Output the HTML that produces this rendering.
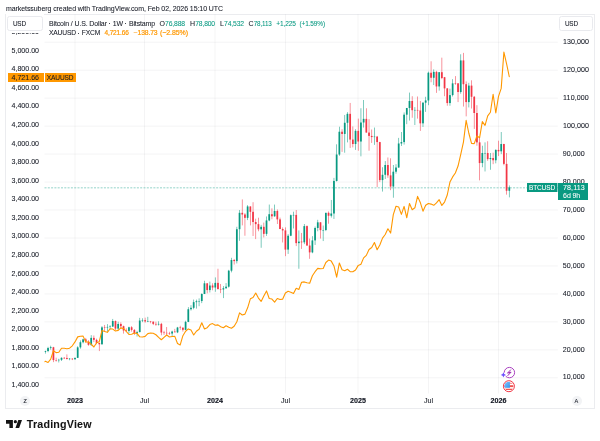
<!DOCTYPE html>
<html><head><meta charset="utf-8"><title>chart</title>
<style>
html,body{margin:0;padding:0;background:#fff;}
body{width:600px;height:441px;position:relative;overflow:hidden;-webkit-font-smoothing:antialiased;font-family:"Liberation Sans",sans-serif;color:#131722;}
.p{position:absolute;will-change:opacity;-webkit-text-stroke:0.06px currentColor;line-height:9px;height:9px;white-space:nowrap;}
.frame{position:absolute;left:5px;top:13.5px;width:589.8px;height:395.2px;border:0.7px solid #ebecef;box-sizing:border-box;}
.usd{position:absolute;top:16.2px;height:14.5px;box-sizing:border-box;border:0.7px solid #e9eaee;border-radius:2.5px;background:#fff;}
.tag{position:absolute;box-sizing:border-box;}
.d{display:inline-block;width:1px;height:1px;margin:0 0.66px;background:currentColor;vertical-align:1.5px;opacity:0.8;}
.cover{position:absolute;background:#fff;}
.btn{position:absolute;width:10px;height:10px;border-radius:5px;background:#f2f3f5;}
</style></head><body>
<div class="p" style="left:6.00px;top:3.80px;font-size:7.0px;letter-spacing:-0.076px;color:#131722;">marketssuberg created with TradingView.com, Feb 02, 2026 15:10 UTC</div>
<div class="frame"></div>
<svg width="600" height="441" viewBox="0 0 600 441" style="position:absolute;left:0;top:0"><g stroke="#2a2e39" stroke-opacity="0.075" stroke-width="0.7"><line x1="44.5" x2="557.8" y1="377.78" y2="377.78"/><line x1="44.5" x2="557.8" y1="349.82" y2="349.82"/><line x1="44.5" x2="557.8" y1="321.86" y2="321.86"/><line x1="44.5" x2="557.8" y1="293.90" y2="293.90"/><line x1="44.5" x2="557.8" y1="265.94" y2="265.94"/><line x1="44.5" x2="557.8" y1="237.98" y2="237.98"/><line x1="44.5" x2="557.8" y1="210.02" y2="210.02"/><line x1="44.5" x2="557.8" y1="182.06" y2="182.06"/><line x1="44.5" x2="557.8" y1="154.10" y2="154.10"/><line x1="44.5" x2="557.8" y1="126.14" y2="126.14"/><line x1="44.5" x2="557.8" y1="98.18" y2="98.18"/><line x1="44.5" x2="557.8" y1="70.22" y2="70.22"/><line x1="44.5" x2="557.8" y1="42.26" y2="42.26"/><line x1="75" x2="75" y1="14.3" y2="393.5"/><line x1="144.5" x2="144.5" y1="14.3" y2="393.5"/><line x1="215" x2="215" y1="14.3" y2="393.5"/><line x1="285.5" x2="285.5" y1="14.3" y2="393.5"/><line x1="358" x2="358" y1="14.3" y2="393.5"/><line x1="428.5" x2="428.5" y1="14.3" y2="393.5"/><line x1="498.5" x2="498.5" y1="14.3" y2="393.5"/></g>
<line x1="44.5" x2="557.8" y1="187.84" y2="187.84" stroke="#089981" stroke-width="0.8" stroke-dasharray="2 1.3" opacity="0.55"/>
<g clip-path="url(#pane)"><rect x="44.98" y="350.66" width="0.7" height="2.94" fill="#089981" fill-opacity="0.75"/><rect x="47.68" y="346.79" width="0.7" height="5.41" fill="#089981" fill-opacity="0.75"/><rect x="50.37" y="345.68" width="0.7" height="4.00" fill="#089981" fill-opacity="0.75"/><rect x="53.07" y="346.83" width="0.7" height="15.29" fill="#f23645" fill-opacity="0.75"/><rect x="55.77" y="357.68" width="0.7" height="3.89" fill="#f23645" fill-opacity="0.75"/><rect x="58.46" y="358.77" width="0.7" height="3.69" fill="#089981" fill-opacity="0.75"/><rect x="61.16" y="357.31" width="0.7" height="3.69" fill="#089981" fill-opacity="0.75"/><rect x="63.86" y="357.03" width="0.7" height="2.01" fill="#f23645" fill-opacity="0.75"/><rect x="66.56" y="354.35" width="0.7" height="5.17" fill="#f23645" fill-opacity="0.75"/><rect x="69.26" y="358.04" width="0.7" height="2.21" fill="#089981" fill-opacity="0.75"/><rect x="71.95" y="358.29" width="0.7" height="1.79" fill="#f23645" fill-opacity="0.75"/><rect x="74.65" y="357.65" width="0.7" height="1.96" fill="#089981" fill-opacity="0.75"/><rect x="77.35" y="346.30" width="0.7" height="11.63" fill="#089981" fill-opacity="0.75"/><rect x="80.05" y="340.40" width="0.7" height="8.30" fill="#089981" fill-opacity="0.75"/><rect x="82.74" y="338.75" width="0.7" height="4.64" fill="#089981" fill-opacity="0.75"/><rect x="85.44" y="337.91" width="0.7" height="4.92" fill="#f23645" fill-opacity="0.75"/><rect x="88.14" y="340.17" width="0.7" height="5.59" fill="#f23645" fill-opacity="0.75"/><rect x="90.84" y="335.14" width="0.7" height="10.85" fill="#089981" fill-opacity="0.75"/><rect x="93.53" y="335.50" width="0.7" height="6.57" fill="#f23645" fill-opacity="0.75"/><rect x="96.23" y="338.66" width="0.7" height="5.59" fill="#f23645" fill-opacity="0.75"/><rect x="98.93" y="342.55" width="0.7" height="8.53" fill="#f23645" fill-opacity="0.75"/><rect x="101.62" y="326.14" width="0.7" height="18.51" fill="#089981" fill-opacity="0.75"/><rect x="104.32" y="324.94" width="0.7" height="6.43" fill="#f23645" fill-opacity="0.75"/><rect x="107.02" y="324.12" width="0.7" height="7.52" fill="#089981" fill-opacity="0.75"/><rect x="109.72" y="325.22" width="0.7" height="4.33" fill="#089981" fill-opacity="0.75"/><rect x="112.42" y="318.92" width="0.7" height="8.05" fill="#089981" fill-opacity="0.75"/><rect x="115.11" y="320.46" width="0.7" height="9.51" fill="#f23645" fill-opacity="0.75"/><rect x="117.81" y="321.72" width="0.7" height="8.67" fill="#089981" fill-opacity="0.75"/><rect x="120.51" y="322.28" width="0.7" height="6.15" fill="#f23645" fill-opacity="0.75"/><rect x="123.20" y="325.63" width="0.7" height="7.97" fill="#f23645" fill-opacity="0.75"/><rect x="125.90" y="328.35" width="0.7" height="3.72" fill="#f23645" fill-opacity="0.75"/><rect x="128.60" y="326.70" width="0.7" height="6.77" fill="#089981" fill-opacity="0.75"/><rect x="131.30" y="326.19" width="0.7" height="5.45" fill="#f23645" fill-opacity="0.75"/><rect x="134.00" y="329.13" width="0.7" height="5.73" fill="#f23645" fill-opacity="0.75"/><rect x="136.69" y="330.81" width="0.7" height="5.73" fill="#089981" fill-opacity="0.75"/><rect x="139.39" y="317.86" width="0.7" height="14.48" fill="#089981" fill-opacity="0.75"/><rect x="142.09" y="318.28" width="0.7" height="3.86" fill="#089981" fill-opacity="0.75"/><rect x="144.78" y="317.67" width="0.7" height="5.03" fill="#f23645" fill-opacity="0.75"/><rect x="147.48" y="316.83" width="0.7" height="5.31" fill="#089981" fill-opacity="0.75"/><rect x="150.18" y="320.94" width="0.7" height="2.32" fill="#f23645" fill-opacity="0.75"/><rect x="152.88" y="321.58" width="0.7" height="3.50" fill="#f23645" fill-opacity="0.75"/><rect x="155.58" y="321.72" width="0.7" height="4.05" fill="#f23645" fill-opacity="0.75"/><rect x="158.27" y="321.30" width="0.7" height="4.19" fill="#089981" fill-opacity="0.75"/><rect x="160.97" y="322.84" width="0.7" height="12.44" fill="#f23645" fill-opacity="0.75"/><rect x="163.67" y="330.81" width="0.7" height="4.05" fill="#f23645" fill-opacity="0.75"/><rect x="166.36" y="327.03" width="0.7" height="7.97" fill="#f23645" fill-opacity="0.75"/><rect x="169.06" y="331.79" width="0.7" height="3.08" fill="#f23645" fill-opacity="0.75"/><rect x="171.76" y="330.67" width="0.7" height="5.45" fill="#089981" fill-opacity="0.75"/><rect x="174.46" y="328.85" width="0.7" height="3.22" fill="#f23645" fill-opacity="0.75"/><rect x="177.16" y="326.89" width="0.7" height="6.21" fill="#089981" fill-opacity="0.75"/><rect x="179.85" y="325.77" width="0.7" height="4.05" fill="#f23645" fill-opacity="0.75"/><rect x="182.55" y="327.48" width="0.7" height="4.08" fill="#f23645" fill-opacity="0.75"/><rect x="185.25" y="320.74" width="0.7" height="9.23" fill="#089981" fill-opacity="0.75"/><rect x="187.94" y="307.10" width="0.7" height="15.04" fill="#089981" fill-opacity="0.75"/><rect x="190.64" y="305.14" width="0.7" height="5.40" fill="#089981" fill-opacity="0.75"/><rect x="193.34" y="299.55" width="0.7" height="9.73" fill="#089981" fill-opacity="0.75"/><rect x="196.04" y="299.63" width="0.7" height="8.95" fill="#089981" fill-opacity="0.75"/><rect x="198.73" y="298.37" width="0.7" height="7.83" fill="#089981" fill-opacity="0.75"/><rect x="201.43" y="293.34" width="0.7" height="9.79" fill="#089981" fill-opacity="0.75"/><rect x="204.13" y="280.76" width="0.7" height="13.28" fill="#089981" fill-opacity="0.75"/><rect x="206.83" y="283.28" width="0.7" height="10.07" fill="#f23645" fill-opacity="0.75"/><rect x="209.53" y="281.60" width="0.7" height="10.90" fill="#089981" fill-opacity="0.75"/><rect x="212.22" y="283.28" width="0.7" height="6.99" fill="#f23645" fill-opacity="0.75"/><rect x="214.92" y="277.40" width="0.7" height="14.40" fill="#089981" fill-opacity="0.75"/><rect x="217.62" y="268.74" width="0.7" height="20.97" fill="#f23645" fill-opacity="0.75"/><rect x="220.31" y="283.97" width="0.7" height="9.14" fill="#f23645" fill-opacity="0.75"/><rect x="223.01" y="286.07" width="0.7" height="12.02" fill="#089981" fill-opacity="0.75"/><rect x="225.71" y="283.05" width="0.7" height="5.82" fill="#089981" fill-opacity="0.75"/><rect x="228.41" y="269.85" width="0.7" height="17.75" fill="#089981" fill-opacity="0.75"/><rect x="231.10" y="257.83" width="0.7" height="14.54" fill="#089981" fill-opacity="0.75"/><rect x="233.80" y="258.95" width="0.7" height="5.59" fill="#f23645" fill-opacity="0.75"/><rect x="236.50" y="226.80" width="0.7" height="36.63" fill="#089981" fill-opacity="0.75"/><rect x="239.20" y="210.02" width="0.7" height="30.76" fill="#089981" fill-opacity="0.75"/><rect x="241.89" y="199.40" width="0.7" height="26.00" fill="#f23645" fill-opacity="0.75"/><rect x="244.59" y="213.10" width="0.7" height="22.65" fill="#f23645" fill-opacity="0.75"/><rect x="247.29" y="205.13" width="0.7" height="14.96" fill="#089981" fill-opacity="0.75"/><rect x="249.99" y="206.39" width="0.7" height="19.01" fill="#f23645" fill-opacity="0.75"/><rect x="252.69" y="202.19" width="0.7" height="33.83" fill="#f23645" fill-opacity="0.75"/><rect x="255.38" y="218.69" width="0.7" height="20.41" fill="#f23645" fill-opacity="0.75"/><rect x="258.08" y="217.71" width="0.7" height="13.56" fill="#f23645" fill-opacity="0.75"/><rect x="260.78" y="224.84" width="0.7" height="22.93" fill="#089981" fill-opacity="0.75"/><rect x="263.47" y="222.60" width="0.7" height="14.82" fill="#f23645" fill-opacity="0.75"/><rect x="266.17" y="216.45" width="0.7" height="19.43" fill="#089981" fill-opacity="0.75"/><rect x="268.87" y="204.57" width="0.7" height="16.64" fill="#089981" fill-opacity="0.75"/><rect x="271.57" y="208.34" width="0.7" height="10.90" fill="#f23645" fill-opacity="0.75"/><rect x="274.26" y="204.57" width="0.7" height="12.16" fill="#089981" fill-opacity="0.75"/><rect x="276.96" y="209.46" width="0.7" height="14.54" fill="#f23645" fill-opacity="0.75"/><rect x="279.66" y="217.57" width="0.7" height="11.46" fill="#f23645" fill-opacity="0.75"/><rect x="282.36" y="227.36" width="0.7" height="15.10" fill="#f23645" fill-opacity="0.75"/><rect x="285.05" y="227.36" width="0.7" height="28.80" fill="#f23645" fill-opacity="0.75"/><rect x="287.75" y="234.07" width="0.7" height="19.85" fill="#089981" fill-opacity="0.75"/><rect x="290.45" y="214.49" width="0.7" height="21.67" fill="#089981" fill-opacity="0.75"/><rect x="293.15" y="211.70" width="0.7" height="16.78" fill="#089981" fill-opacity="0.75"/><rect x="295.84" y="210.02" width="0.7" height="36.07" fill="#f23645" fill-opacity="0.75"/><rect x="298.54" y="230.43" width="0.7" height="38.31" fill="#089981" fill-opacity="0.75"/><rect x="301.24" y="232.95" width="0.7" height="15.94" fill="#f23645" fill-opacity="0.75"/><rect x="303.94" y="224.00" width="0.7" height="20.13" fill="#089981" fill-opacity="0.75"/><rect x="306.63" y="225.40" width="0.7" height="20.41" fill="#f23645" fill-opacity="0.75"/><rect x="309.33" y="238.54" width="0.7" height="20.27" fill="#f23645" fill-opacity="0.75"/><rect x="312.03" y="236.16" width="0.7" height="17.06" fill="#089981" fill-opacity="0.75"/><rect x="314.73" y="226.52" width="0.7" height="18.45" fill="#089981" fill-opacity="0.75"/><rect x="317.42" y="219.81" width="0.7" height="11.46" fill="#089981" fill-opacity="0.75"/><rect x="320.12" y="222.18" width="0.7" height="16.36" fill="#f23645" fill-opacity="0.75"/><rect x="322.82" y="225.54" width="0.7" height="15.52" fill="#089981" fill-opacity="0.75"/><rect x="325.52" y="212.82" width="0.7" height="18.31" fill="#089981" fill-opacity="0.75"/><rect x="328.21" y="211.42" width="0.7" height="12.30" fill="#f23645" fill-opacity="0.75"/><rect x="330.91" y="199.95" width="0.7" height="17.61" fill="#089981" fill-opacity="0.75"/><rect x="333.61" y="177.87" width="0.7" height="41.10" fill="#089981" fill-opacity="0.75"/><rect x="336.31" y="144.31" width="0.7" height="37.19" fill="#089981" fill-opacity="0.75"/><rect x="339.00" y="126.70" width="0.7" height="29.08" fill="#089981" fill-opacity="0.75"/><rect x="341.70" y="129.22" width="0.7" height="22.65" fill="#f23645" fill-opacity="0.75"/><rect x="344.40" y="114.96" width="0.7" height="37.75" fill="#089981" fill-opacity="0.75"/><rect x="347.10" y="112.16" width="0.7" height="30.20" fill="#089981" fill-opacity="0.75"/><rect x="349.79" y="102.93" width="0.7" height="45.02" fill="#f23645" fill-opacity="0.75"/><rect x="352.49" y="126.42" width="0.7" height="20.97" fill="#f23645" fill-opacity="0.75"/><rect x="355.19" y="129.22" width="0.7" height="20.69" fill="#089981" fill-opacity="0.75"/><rect x="357.89" y="118.59" width="0.7" height="32.15" fill="#f23645" fill-opacity="0.75"/><rect x="360.58" y="108.25" width="0.7" height="48.09" fill="#089981" fill-opacity="0.75"/><rect x="363.28" y="100.00" width="0.7" height="27.54" fill="#089981" fill-opacity="0.75"/><rect x="365.98" y="108.25" width="0.7" height="24.33" fill="#f23645" fill-opacity="0.75"/><rect x="368.68" y="119.15" width="0.7" height="31.59" fill="#f23645" fill-opacity="0.75"/><rect x="371.37" y="129.50" width="0.7" height="13.42" fill="#f23645" fill-opacity="0.75"/><rect x="374.07" y="127.54" width="0.7" height="17.34" fill="#089981" fill-opacity="0.75"/><rect x="376.77" y="135.93" width="0.7" height="51.17" fill="#f23645" fill-opacity="0.75"/><rect x="379.47" y="141.80" width="0.7" height="40.26" fill="#f23645" fill-opacity="0.75"/><rect x="382.16" y="167.24" width="0.7" height="24.33" fill="#089981" fill-opacity="0.75"/><rect x="384.86" y="161.09" width="0.7" height="17.89" fill="#089981" fill-opacity="0.75"/><rect x="387.56" y="157.46" width="0.7" height="20.41" fill="#f23645" fill-opacity="0.75"/><rect x="390.26" y="158.29" width="0.7" height="31.87" fill="#f23645" fill-opacity="0.75"/><rect x="392.95" y="165.00" width="0.7" height="32.71" fill="#089981" fill-opacity="0.75"/><rect x="395.65" y="164.17" width="0.7" height="9.51" fill="#089981" fill-opacity="0.75"/><rect x="398.35" y="137.88" width="0.7" height="29.92" fill="#089981" fill-opacity="0.75"/><rect x="401.05" y="132.01" width="0.7" height="13.98" fill="#089981" fill-opacity="0.75"/><rect x="403.74" y="112.44" width="0.7" height="32.15" fill="#089981" fill-opacity="0.75"/><rect x="406.44" y="109.36" width="0.7" height="14.82" fill="#089981" fill-opacity="0.75"/><rect x="409.14" y="92.59" width="0.7" height="27.96" fill="#089981" fill-opacity="0.75"/><rect x="411.84" y="96.22" width="0.7" height="21.53" fill="#f23645" fill-opacity="0.75"/><rect x="414.53" y="107.13" width="0.7" height="17.89" fill="#089981" fill-opacity="0.75"/><rect x="417.23" y="96.50" width="0.7" height="22.09" fill="#f23645" fill-opacity="0.75"/><rect x="419.93" y="100.98" width="0.7" height="29.92" fill="#f23645" fill-opacity="0.75"/><rect x="422.63" y="102.37" width="0.7" height="24.60" fill="#089981" fill-opacity="0.75"/><rect x="425.32" y="96.78" width="0.7" height="15.10" fill="#089981" fill-opacity="0.75"/><rect x="428.02" y="71.62" width="0.7" height="33.55" fill="#089981" fill-opacity="0.75"/><rect x="430.72" y="61.27" width="0.7" height="20.97" fill="#f23645" fill-opacity="0.75"/><rect x="433.42" y="69.38" width="0.7" height="15.66" fill="#089981" fill-opacity="0.75"/><rect x="436.11" y="70.78" width="0.7" height="22.09" fill="#f23645" fill-opacity="0.75"/><rect x="438.81" y="72.18" width="0.7" height="18.45" fill="#089981" fill-opacity="0.75"/><rect x="441.51" y="57.64" width="0.7" height="21.53" fill="#f23645" fill-opacity="0.75"/><rect x="444.21" y="76.93" width="0.7" height="19.29" fill="#f23645" fill-opacity="0.75"/><rect x="446.90" y="88.11" width="0.7" height="17.61" fill="#f23645" fill-opacity="0.75"/><rect x="449.60" y="88.67" width="0.7" height="17.06" fill="#089981" fill-opacity="0.75"/><rect x="452.30" y="79.17" width="0.7" height="17.34" fill="#089981" fill-opacity="0.75"/><rect x="455.00" y="76.09" width="0.7" height="8.67" fill="#f23645" fill-opacity="0.75"/><rect x="457.69" y="83.08" width="0.7" height="19.01" fill="#f23645" fill-opacity="0.75"/><rect x="460.39" y="54.28" width="0.7" height="39.42" fill="#089981" fill-opacity="0.75"/><rect x="463.09" y="52.88" width="0.7" height="53.68" fill="#f23645" fill-opacity="0.75"/><rect x="465.79" y="81.40" width="0.7" height="34.95" fill="#f23645" fill-opacity="0.75"/><rect x="468.48" y="82.80" width="0.7" height="24.60" fill="#089981" fill-opacity="0.75"/><rect x="471.18" y="80.29" width="0.7" height="28.24" fill="#f23645" fill-opacity="0.75"/><rect x="473.88" y="95.94" width="0.7" height="32.99" fill="#f23645" fill-opacity="0.75"/><rect x="476.58" y="105.17" width="0.7" height="40.54" fill="#f23645" fill-opacity="0.75"/><rect x="479.27" y="137.32" width="0.7" height="43.06" fill="#f23645" fill-opacity="0.75"/><rect x="481.97" y="145.71" width="0.7" height="21.53" fill="#089981" fill-opacity="0.75"/><rect x="484.67" y="142.36" width="0.7" height="29.08" fill="#089981" fill-opacity="0.75"/><rect x="487.37" y="141.24" width="0.7" height="19.57" fill="#f23645" fill-opacity="0.75"/><rect x="490.06" y="152.98" width="0.7" height="16.78" fill="#089981" fill-opacity="0.75"/><rect x="492.76" y="152.70" width="0.7" height="11.46" fill="#f23645" fill-opacity="0.75"/><rect x="495.46" y="149.35" width="0.7" height="13.98" fill="#089981" fill-opacity="0.75"/><rect x="498.16" y="140.68" width="0.7" height="15.38" fill="#f23645" fill-opacity="0.75"/><rect x="500.85" y="132.01" width="0.7" height="22.09" fill="#089981" fill-opacity="0.75"/><rect x="503.55" y="143.75" width="0.7" height="21.53" fill="#f23645" fill-opacity="0.75"/><rect x="506.25" y="152.98" width="0.7" height="41.66" fill="#f23645" fill-opacity="0.75"/><rect x="508.95" y="185.42" width="0.7" height="11.93" fill="#089981" fill-opacity="0.75"/><rect x="44.45" y="351.02" width="1.75" height="0.87" fill="#089981"/><rect x="47.15" y="348.06" width="1.75" height="2.96" fill="#089981"/><rect x="49.85" y="347.25" width="1.75" height="0.81" fill="#089981"/><rect x="52.55" y="347.25" width="1.75" height="12.83" fill="#f23645"/><rect x="55.24" y="360.08" width="1.75" height="0.50" fill="#f23645"/><rect x="57.94" y="359.80" width="1.75" height="0.50" fill="#089981"/><rect x="60.64" y="357.84" width="1.75" height="1.96" fill="#089981"/><rect x="63.34" y="357.84" width="1.75" height="0.50" fill="#f23645"/><rect x="66.03" y="357.96" width="1.75" height="0.98" fill="#f23645"/><rect x="68.73" y="358.66" width="1.75" height="0.50" fill="#089981"/><rect x="71.43" y="358.66" width="1.75" height="0.62" fill="#f23645"/><rect x="74.12" y="357.84" width="1.75" height="1.43" fill="#089981"/><rect x="76.82" y="347.36" width="1.75" height="10.49" fill="#089981"/><rect x="79.52" y="342.24" width="1.75" height="5.12" fill="#089981"/><rect x="82.22" y="339.36" width="1.75" height="2.88" fill="#089981"/><rect x="84.91" y="339.36" width="1.75" height="2.26" fill="#f23645"/><rect x="87.61" y="341.63" width="1.75" height="3.19" fill="#f23645"/><rect x="90.31" y="337.88" width="1.75" height="6.93" fill="#089981"/><rect x="93.01" y="337.88" width="1.75" height="1.99" fill="#f23645"/><rect x="95.70" y="339.87" width="1.75" height="3.16" fill="#f23645"/><rect x="98.40" y="343.03" width="1.75" height="1.23" fill="#f23645"/><rect x="101.10" y="327.37" width="1.75" height="16.89" fill="#089981"/><rect x="103.80" y="327.37" width="1.75" height="0.50" fill="#f23645"/><rect x="106.50" y="326.92" width="1.75" height="0.56" fill="#089981"/><rect x="109.19" y="326.53" width="1.75" height="0.50" fill="#089981"/><rect x="111.89" y="321.02" width="1.75" height="5.51" fill="#089981"/><rect x="114.59" y="321.02" width="1.75" height="7.58" fill="#f23645"/><rect x="117.28" y="323.96" width="1.75" height="4.64" fill="#089981"/><rect x="119.98" y="323.96" width="1.75" height="2.24" fill="#f23645"/><rect x="122.68" y="326.19" width="1.75" height="4.28" fill="#f23645"/><rect x="125.38" y="330.47" width="1.75" height="0.50" fill="#f23645"/><rect x="128.07" y="327.26" width="1.75" height="3.69" fill="#089981"/><rect x="130.77" y="327.26" width="1.75" height="2.66" fill="#f23645"/><rect x="133.47" y="329.91" width="1.75" height="3.33" fill="#f23645"/><rect x="136.17" y="332.09" width="1.75" height="1.15" fill="#089981"/><rect x="138.87" y="320.55" width="1.75" height="11.55" fill="#089981"/><rect x="141.56" y="320.15" width="1.75" height="0.50" fill="#089981"/><rect x="144.26" y="320.15" width="1.75" height="1.26" fill="#f23645"/><rect x="146.96" y="321.22" width="1.75" height="0.50" fill="#089981"/><rect x="149.66" y="321.22" width="1.75" height="0.50" fill="#f23645"/><rect x="152.35" y="321.64" width="1.75" height="2.24" fill="#f23645"/><rect x="155.05" y="323.87" width="1.75" height="0.64" fill="#f23645"/><rect x="157.75" y="323.87" width="1.75" height="0.64" fill="#089981"/><rect x="160.44" y="323.87" width="1.75" height="8.67" fill="#f23645"/><rect x="163.14" y="332.54" width="1.75" height="0.50" fill="#f23645"/><rect x="165.84" y="332.79" width="1.75" height="0.50" fill="#f23645"/><rect x="168.54" y="333.13" width="1.75" height="0.50" fill="#f23645"/><rect x="171.23" y="331.56" width="1.75" height="1.96" fill="#089981"/><rect x="173.93" y="331.56" width="1.75" height="0.78" fill="#f23645"/><rect x="176.63" y="327.51" width="1.75" height="4.84" fill="#089981"/><rect x="179.33" y="327.51" width="1.75" height="0.50" fill="#f23645"/><rect x="182.02" y="327.68" width="1.75" height="2.15" fill="#f23645"/><rect x="184.72" y="321.89" width="1.75" height="7.94" fill="#089981"/><rect x="187.42" y="309.22" width="1.75" height="12.67" fill="#089981"/><rect x="190.12" y="307.80" width="1.75" height="1.43" fill="#089981"/><rect x="192.81" y="302.15" width="1.75" height="5.65" fill="#089981"/><rect x="195.51" y="301.25" width="1.75" height="0.89" fill="#089981"/><rect x="198.21" y="301.03" width="1.75" height="0.50" fill="#089981"/><rect x="200.91" y="293.98" width="1.75" height="7.05" fill="#089981"/><rect x="203.60" y="283.30" width="1.75" height="10.68" fill="#089981"/><rect x="206.30" y="283.30" width="1.75" height="6.77" fill="#f23645"/><rect x="209.00" y="285.51" width="1.75" height="4.56" fill="#089981"/><rect x="211.70" y="285.51" width="1.75" height="2.01" fill="#f23645"/><rect x="214.39" y="282.88" width="1.75" height="4.64" fill="#089981"/><rect x="217.09" y="282.88" width="1.75" height="6.12" fill="#f23645"/><rect x="219.79" y="289.01" width="1.75" height="0.50" fill="#f23645"/><rect x="222.49" y="288.22" width="1.75" height="1.26" fill="#089981"/><rect x="225.19" y="286.69" width="1.75" height="1.54" fill="#089981"/><rect x="227.88" y="270.69" width="1.75" height="15.99" fill="#089981"/><rect x="230.58" y="259.98" width="1.75" height="10.71" fill="#089981"/><rect x="233.28" y="259.98" width="1.75" height="1.12" fill="#f23645"/><rect x="235.97" y="229.20" width="1.75" height="31.90" fill="#089981"/><rect x="238.67" y="212.82" width="1.75" height="16.38" fill="#089981"/><rect x="241.37" y="212.82" width="1.75" height="1.68" fill="#f23645"/><rect x="244.07" y="214.49" width="1.75" height="3.36" fill="#f23645"/><rect x="246.76" y="206.44" width="1.75" height="11.41" fill="#089981"/><rect x="249.46" y="206.44" width="1.75" height="5.37" fill="#f23645"/><rect x="252.16" y="211.81" width="1.75" height="10.23" fill="#f23645"/><rect x="254.86" y="222.04" width="1.75" height="2.10" fill="#f23645"/><rect x="257.55" y="224.14" width="1.75" height="5.17" fill="#f23645"/><rect x="260.25" y="226.80" width="1.75" height="2.52" fill="#089981"/><rect x="262.95" y="226.80" width="1.75" height="7.05" fill="#f23645"/><rect x="265.65" y="220.45" width="1.75" height="13.39" fill="#089981"/><rect x="268.34" y="214.21" width="1.75" height="6.24" fill="#089981"/><rect x="271.04" y="214.21" width="1.75" height="2.10" fill="#f23645"/><rect x="273.74" y="211.00" width="1.75" height="5.31" fill="#089981"/><rect x="276.44" y="211.00" width="1.75" height="8.39" fill="#f23645"/><rect x="279.13" y="219.39" width="1.75" height="9.65" fill="#f23645"/><rect x="281.83" y="229.03" width="1.75" height="1.40" fill="#f23645"/><rect x="284.53" y="230.43" width="1.75" height="19.15" fill="#f23645"/><rect x="287.23" y="235.74" width="1.75" height="13.84" fill="#089981"/><rect x="289.92" y="215.19" width="1.75" height="20.55" fill="#089981"/><rect x="292.62" y="214.91" width="1.75" height="0.50" fill="#089981"/><rect x="295.32" y="214.91" width="1.75" height="28.24" fill="#f23645"/><rect x="298.02" y="241.61" width="1.75" height="1.54" fill="#089981"/><rect x="300.71" y="241.61" width="1.75" height="0.70" fill="#f23645"/><rect x="303.41" y="226.10" width="1.75" height="16.22" fill="#089981"/><rect x="306.11" y="226.10" width="1.75" height="19.43" fill="#f23645"/><rect x="308.81" y="245.53" width="1.75" height="6.85" fill="#f23645"/><rect x="311.50" y="240.41" width="1.75" height="11.97" fill="#089981"/><rect x="314.20" y="227.97" width="1.75" height="12.44" fill="#089981"/><rect x="316.90" y="222.32" width="1.75" height="5.65" fill="#089981"/><rect x="319.60" y="222.32" width="1.75" height="7.83" fill="#f23645"/><rect x="322.29" y="230.01" width="1.75" height="0.50" fill="#089981"/><rect x="324.99" y="212.82" width="1.75" height="17.20" fill="#089981"/><rect x="327.69" y="212.82" width="1.75" height="2.94" fill="#f23645"/><rect x="330.39" y="213.51" width="1.75" height="2.24" fill="#089981"/><rect x="333.08" y="180.94" width="1.75" height="32.57" fill="#089981"/><rect x="335.78" y="154.52" width="1.75" height="26.42" fill="#089981"/><rect x="338.48" y="131.73" width="1.75" height="22.79" fill="#089981"/><rect x="341.18" y="131.73" width="1.75" height="2.24" fill="#f23645"/><rect x="343.88" y="122.78" width="1.75" height="11.18" fill="#089981"/><rect x="346.57" y="113.84" width="1.75" height="8.95" fill="#089981"/><rect x="349.27" y="113.84" width="1.75" height="25.72" fill="#f23645"/><rect x="351.97" y="139.56" width="1.75" height="4.47" fill="#f23645"/><rect x="354.66" y="130.89" width="1.75" height="13.14" fill="#089981"/><rect x="357.36" y="130.89" width="1.75" height="10.62" fill="#f23645"/><rect x="360.06" y="122.51" width="1.75" height="19.01" fill="#089981"/><rect x="362.76" y="118.87" width="1.75" height="3.63" fill="#089981"/><rect x="365.45" y="118.87" width="1.75" height="13.70" fill="#f23645"/><rect x="368.15" y="132.57" width="1.75" height="3.36" fill="#f23645"/><rect x="370.85" y="135.93" width="1.75" height="1.12" fill="#f23645"/><rect x="373.55" y="136.62" width="1.75" height="0.50" fill="#089981"/><rect x="376.25" y="136.62" width="1.75" height="5.45" fill="#f23645"/><rect x="378.94" y="142.08" width="1.75" height="38.03" fill="#f23645"/><rect x="381.64" y="174.79" width="1.75" height="5.31" fill="#089981"/><rect x="384.34" y="165.00" width="1.75" height="9.79" fill="#089981"/><rect x="387.03" y="165.00" width="1.75" height="10.35" fill="#f23645"/><rect x="389.73" y="175.35" width="1.75" height="11.18" fill="#f23645"/><rect x="392.43" y="171.71" width="1.75" height="14.82" fill="#089981"/><rect x="395.13" y="167.52" width="1.75" height="4.19" fill="#089981"/><rect x="397.82" y="143.48" width="1.75" height="24.05" fill="#089981"/><rect x="400.52" y="142.08" width="1.75" height="1.40" fill="#089981"/><rect x="403.22" y="114.68" width="1.75" height="27.40" fill="#089981"/><rect x="405.92" y="107.97" width="1.75" height="6.71" fill="#089981"/><rect x="408.61" y="100.98" width="1.75" height="6.99" fill="#089981"/><rect x="411.31" y="100.98" width="1.75" height="9.23" fill="#f23645"/><rect x="414.01" y="109.92" width="1.75" height="0.50" fill="#089981"/><rect x="416.71" y="109.92" width="1.75" height="0.56" fill="#f23645"/><rect x="419.40" y="110.48" width="1.75" height="12.86" fill="#f23645"/><rect x="422.10" y="102.65" width="1.75" height="20.69" fill="#089981"/><rect x="424.80" y="100.42" width="1.75" height="2.24" fill="#089981"/><rect x="427.50" y="72.74" width="1.75" height="27.68" fill="#089981"/><rect x="430.19" y="72.74" width="1.75" height="5.03" fill="#f23645"/><rect x="432.89" y="71.90" width="1.75" height="5.87" fill="#089981"/><rect x="435.59" y="71.90" width="1.75" height="14.54" fill="#f23645"/><rect x="438.29" y="72.18" width="1.75" height="14.26" fill="#089981"/><rect x="440.98" y="72.18" width="1.75" height="5.87" fill="#f23645"/><rect x="443.68" y="77.21" width="1.75" height="11.18" fill="#f23645"/><rect x="446.38" y="88.39" width="1.75" height="14.68" fill="#f23645"/><rect x="449.08" y="95.10" width="1.75" height="7.97" fill="#089981"/><rect x="451.77" y="83.36" width="1.75" height="11.74" fill="#089981"/><rect x="454.47" y="83.36" width="1.75" height="0.50" fill="#f23645"/><rect x="457.17" y="83.36" width="1.75" height="8.67" fill="#f23645"/><rect x="459.87" y="60.43" width="1.75" height="31.59" fill="#089981"/><rect x="462.56" y="60.43" width="1.75" height="23.77" fill="#f23645"/><rect x="465.26" y="84.20" width="1.75" height="17.89" fill="#f23645"/><rect x="467.96" y="85.60" width="1.75" height="16.50" fill="#089981"/><rect x="470.66" y="85.60" width="1.75" height="11.18" fill="#f23645"/><rect x="473.35" y="96.78" width="1.75" height="16.22" fill="#f23645"/><rect x="476.05" y="113.00" width="1.75" height="29.36" fill="#f23645"/><rect x="478.75" y="142.36" width="1.75" height="20.69" fill="#f23645"/><rect x="481.45" y="152.98" width="1.75" height="10.07" fill="#089981"/><rect x="484.14" y="152.98" width="1.75" height="0.50" fill="#089981"/><rect x="486.84" y="152.98" width="1.75" height="6.15" fill="#f23645"/><rect x="489.54" y="158.01" width="1.75" height="1.12" fill="#089981"/><rect x="492.24" y="158.01" width="1.75" height="2.24" fill="#f23645"/><rect x="494.93" y="149.91" width="1.75" height="10.35" fill="#089981"/><rect x="497.63" y="149.91" width="1.75" height="1.40" fill="#f23645"/><rect x="500.33" y="144.03" width="1.75" height="7.27" fill="#089981"/><rect x="503.03" y="144.03" width="1.75" height="19.85" fill="#f23645"/><rect x="505.72" y="163.89" width="1.75" height="26.88" fill="#f23645"/><rect x="508.42" y="187.34" width="1.75" height="3.43" fill="#089981"/></g>
<clipPath id="pane"><rect x="44.5" y="14.3" width="513.3" height="379.2"/></clipPath>
<polyline clip-path="url(#pane)" points="42.63,362.69 45.33,361.30 48.03,362.50 50.72,359.07 53.42,350.71 56.12,352.66 58.81,352.29 61.51,348.30 64.21,348.30 66.91,348.67 69.61,348.21 72.30,345.79 75.00,341.89 77.70,336.88 80.39,336.32 83.09,336.14 85.79,341.98 88.49,341.98 91.19,344.12 93.88,347.00 96.58,342.82 99.28,341.71 101.97,330.47 104.67,331.49 107.37,332.33 110.07,328.71 112.77,329.08 115.46,331.03 118.16,330.38 120.86,327.87 123.55,328.43 126.25,331.49 128.95,334.46 131.65,334.28 134.34,333.07 137.04,333.35 139.74,336.79 142.44,336.97 145.13,336.41 147.83,333.63 150.53,332.98 153.23,333.26 155.93,334.74 158.62,337.44 161.32,339.76 164.02,337.34 166.71,335.02 169.41,336.97 172.11,336.51 174.81,336.41 177.50,343.47 180.20,344.96 182.90,335.67 185.60,331.21 188.29,328.89 190.99,330.10 193.69,335.02 196.39,331.21 199.08,329.26 201.78,322.76 204.48,328.99 207.18,327.69 209.88,324.53 212.57,323.60 215.27,325.27 217.97,324.90 220.66,326.76 223.36,327.78 226.06,325.74 228.76,327.22 231.45,328.24 234.15,326.20 236.85,321.74 239.55,312.83 242.24,314.97 244.94,314.13 247.64,307.82 250.34,298.81 253.03,297.51 255.73,293.05 258.43,298.07 261.13,301.41 263.82,296.02 266.52,290.92 269.22,298.44 271.92,299.09 274.62,302.15 277.31,298.53 280.01,299.55 282.71,299.09 285.40,293.05 288.10,291.29 290.80,292.22 293.50,293.52 296.19,288.32 298.89,289.43 301.59,282.28 304.29,281.91 306.99,282.75 309.68,283.30 312.38,275.78 315.08,271.70 317.77,268.35 320.47,268.82 323.17,268.45 325.87,262.51 328.56,260.09 331.26,261.11 333.96,265.94 336.66,277.18 339.35,262.97 342.05,269.75 344.75,270.68 347.45,269.28 350.14,271.60 352.84,271.79 355.54,270.03 358.24,265.38 360.94,264.18 363.63,257.86 366.33,255.36 369.03,249.51 371.72,247.46 374.42,242.54 377.12,249.78 379.82,244.96 382.51,238.09 385.21,234.46 387.91,228.71 390.61,233.07 393.30,214.59 396.00,206.24 398.70,206.98 401.40,214.32 404.09,206.42 406.79,217.75 409.49,203.45 412.19,209.77 414.88,207.82 417.58,196.40 420.28,202.43 422.98,211.16 425.67,205.31 428.37,203.55 431.07,204.10 433.77,205.31 436.46,202.90 439.16,199.65 441.86,205.40 444.56,202.06 447.25,195.00 449.95,182.10 452.65,176.90 455.35,173.00 458.04,166.03 460.74,154.33 463.44,142.08 466.14,120.35 468.83,133.26 471.53,143.47 474.23,143.66 476.93,135.86 479.62,137.71 482.32,121.56 485.02,125.37 487.72,115.89 490.41,112.27 493.11,94.26 495.81,112.92 498.51,96.40 501.20,88.41 503.90,52.01 506.60,63.90 509.30,76.74" fill="none" stroke="#ff9800" stroke-width="1.1" stroke-linejoin="round" stroke-linecap="round"/></svg>
<svg width="600" height="441" viewBox="0 0 600 441" style="position:absolute;left:0;top:0">
<g transform="translate(509.4 372.6)">
<circle r="5.2" fill="#fff" stroke="#a840bf" stroke-width="1.0"/>
<circle cx="-6" cy="2.3" r="2.5" fill="#fff"/>
<path d="M1.5-3L-1.9 0.55L1.7-0.5L-1.8 3.2" fill="none" stroke="#9c27b0" stroke-width="1.0" stroke-linejoin="miter"/>
<path d="M-6-0.3Q-5.7 2-3.4 2.3Q-5.7 2.6-6 4.9Q-6.3 2.6-8.6 2.3Q-6.3 2-6-0.3Z" fill="#6b4dff"/>
</g>
<g transform="translate(508.9 386.2)">
<clipPath id="fc"><circle r="4.5"/></clipPath><linearGradient id="bl" x1="0" y1="0" x2="1" y2="1"><stop offset="0" stop-color="#8ec8fa"/><stop offset="1" stop-color="#2f95f0"/></linearGradient>
<circle r="5.5" fill="#fff" stroke="#f23645" stroke-width="1.0"/>
<g clip-path="url(#fc)">
<rect x="-5" y="-5" width="10" height="10" fill="#fff"/>
<rect x="-5" y="-3.5" width="10" height="1.1" fill="#ef5350" opacity="0.7"/>
<rect x="-5" y="-1.0" width="10" height="1.9" fill="#ef5350"/>
<rect x="-5" y="2.5" width="10" height="1.3" fill="#ef5350"/>
<rect x="-5" y="-5" width="6.0" height="6.6" fill="url(#bl)"/>
</g></g></svg>
<div class="p" style="left:11.50px;top:380.01px;font-size:7.05px;letter-spacing:0.007px;color:#131722;">1,400.00</div><div class="p" style="left:11.50px;top:361.44px;font-size:7.05px;letter-spacing:0.007px;color:#131722;">1,600.00</div><div class="p" style="left:11.50px;top:342.87px;font-size:7.05px;letter-spacing:0.007px;color:#131722;">1,800.00</div><div class="p" style="left:11.50px;top:324.30px;font-size:7.05px;letter-spacing:0.007px;color:#131722;">2,000.00</div><div class="p" style="left:11.50px;top:305.73px;font-size:7.05px;letter-spacing:0.007px;color:#131722;">2,200.00</div><div class="p" style="left:11.50px;top:287.16px;font-size:7.05px;letter-spacing:0.007px;color:#131722;">2,400.00</div><div class="p" style="left:11.50px;top:268.59px;font-size:7.05px;letter-spacing:0.007px;color:#131722;">2,600.00</div><div class="p" style="left:11.50px;top:250.02px;font-size:7.05px;letter-spacing:0.007px;color:#131722;">2,800.00</div><div class="p" style="left:11.50px;top:231.45px;font-size:7.05px;letter-spacing:0.007px;color:#131722;">3,000.00</div><div class="p" style="left:11.50px;top:212.88px;font-size:7.05px;letter-spacing:0.007px;color:#131722;">3,200.00</div><div class="p" style="left:11.50px;top:194.31px;font-size:7.05px;letter-spacing:0.007px;color:#131722;">3,400.00</div><div class="p" style="left:11.50px;top:175.74px;font-size:7.05px;letter-spacing:0.007px;color:#131722;">3,600.00</div><div class="p" style="left:11.50px;top:157.17px;font-size:7.05px;letter-spacing:0.007px;color:#131722;">3,800.00</div><div class="p" style="left:11.50px;top:138.60px;font-size:7.05px;letter-spacing:0.007px;color:#131722;">4,000.00</div><div class="p" style="left:11.50px;top:120.03px;font-size:7.05px;letter-spacing:0.007px;color:#131722;">4,200.00</div><div class="p" style="left:11.50px;top:101.46px;font-size:7.05px;letter-spacing:0.007px;color:#131722;">4,400.00</div><div class="p" style="left:11.50px;top:82.89px;font-size:7.05px;letter-spacing:0.007px;color:#131722;">4,600.00</div><div class="p" style="left:11.50px;top:64.32px;font-size:7.05px;letter-spacing:0.007px;color:#131722;">4,800.00</div><div class="p" style="left:11.50px;top:45.75px;font-size:7.05px;letter-spacing:0.007px;color:#131722;">5,000.00</div><div class="p" style="left:11.50px;top:27.18px;font-size:7.05px;letter-spacing:0.007px;color:#131722;">5,200.00</div><div class="p" style="left:562.80px;top:373.48px;font-size:7.1px;letter-spacing:0.047px;color:#131722;">10,000</div><div class="p" style="left:562.80px;top:345.52px;font-size:7.1px;letter-spacing:0.047px;color:#131722;">20,000</div><div class="p" style="left:562.80px;top:317.56px;font-size:7.1px;letter-spacing:0.047px;color:#131722;">30,000</div><div class="p" style="left:562.80px;top:289.60px;font-size:7.1px;letter-spacing:0.047px;color:#131722;">40,000</div><div class="p" style="left:562.80px;top:261.64px;font-size:7.1px;letter-spacing:0.047px;color:#131722;">50,000</div><div class="p" style="left:562.80px;top:233.68px;font-size:7.1px;letter-spacing:0.047px;color:#131722;">60,000</div><div class="p" style="left:562.80px;top:205.72px;font-size:7.1px;letter-spacing:0.047px;color:#131722;">70,000</div><div class="p" style="left:562.80px;top:177.76px;font-size:7.1px;letter-spacing:0.047px;color:#131722;">80,000</div><div class="p" style="left:562.80px;top:149.80px;font-size:7.1px;letter-spacing:0.047px;color:#131722;">90,000</div><div class="p" style="left:563.10px;top:121.84px;font-size:7.1px;letter-spacing:0.019px;color:#131722;">100,000</div><div class="p" style="left:563.10px;top:93.88px;font-size:7.1px;letter-spacing:0.095px;color:#131722;">110,000</div><div class="p" style="left:563.10px;top:65.92px;font-size:7.1px;letter-spacing:0.019px;color:#131722;">120,000</div><div class="p" style="left:563.10px;top:37.96px;font-size:7.1px;letter-spacing:0.019px;color:#131722;">130,000</div><div class="p" style="left:66.95px;top:397.00px;font-size:7.15px;letter-spacing:0.048px;color:#131722;font-weight:bold;-webkit-text-stroke:0.15px currentColor;">2023</div><div class="p" style="left:139.90px;top:397.00px;font-size:7.15px;letter-spacing:0.020px;color:#131722;">Jul</div><div class="p" style="left:206.95px;top:397.00px;font-size:7.15px;letter-spacing:0.048px;color:#131722;font-weight:bold;-webkit-text-stroke:0.15px currentColor;">2024</div><div class="p" style="left:280.90px;top:397.00px;font-size:7.15px;letter-spacing:0.020px;color:#131722;">Jul</div><div class="p" style="left:349.95px;top:397.00px;font-size:7.15px;letter-spacing:0.048px;color:#131722;font-weight:bold;-webkit-text-stroke:0.15px currentColor;">2025</div><div class="p" style="left:423.90px;top:397.00px;font-size:7.15px;letter-spacing:0.020px;color:#131722;">Jul</div><div class="p" style="left:490.45px;top:397.00px;font-size:7.15px;letter-spacing:0.048px;color:#131722;font-weight:bold;-webkit-text-stroke:0.15px currentColor;">2026</div>
<div class="cover" style="left:6px;top:14.4px;width:38.3px;height:18.2px"></div><div class="usd" style="left:7.2px;width:35.5px"></div><div class="p" style="left:12.90px;top:18.80px;font-size:6.389px;letter-spacing:-0.130px;color:#131722;">USD</div>
<div class="usd" style="left:559.3px;width:33.5px"></div><div class="p" style="left:564.90px;top:18.80px;font-size:6.389px;letter-spacing:-0.130px;color:#131722;">USD</div>
<div class="p" style="left:49.00px;top:18.60px;font-size:6.997px;letter-spacing:-0.130px;color:#131722;">Bitcoin / U.S. Dollar <i class="d"></i> 1W <i class="d"></i> Bitstamp</div><div class="p" style="left:159.50px;top:18.60px;font-size:6.981px;letter-spacing:-0.130px;color:#131722;">O</div><div class="p" style="left:165.00px;top:18.60px;font-size:6.794px;letter-spacing:-0.130px;color:#089981;">76,888</div><div class="p" style="left:190.00px;top:18.60px;font-size:7.0px;letter-spacing:-0.055px;color:#131722;">H</div><div class="p" style="left:195.20px;top:18.60px;font-size:6.729px;letter-spacing:-0.130px;color:#089981;">78,800</div><div class="p" style="left:220.00px;top:18.60px;font-size:7.0px;letter-spacing:-0.093px;color:#131722;">L</div><div class="p" style="left:224.00px;top:18.60px;font-size:6.794px;letter-spacing:-0.130px;color:#089981;">74,532</div><div class="p" style="left:248.50px;top:18.60px;font-size:7.0px;letter-spacing:-0.055px;color:#131722;">C</div><div class="p" style="left:253.70px;top:18.60px;font-size:6.293px;letter-spacing:-0.130px;color:#089981;">78,113</div><div class="p" style="left:276.25px;top:18.60px;font-size:6.571px;letter-spacing:-0.130px;color:#089981;">+1,225</div><div class="p" style="left:299.50px;top:18.60px;font-size:6.496px;letter-spacing:-0.130px;color:#089981;">(+1.59%)</div><div class="p" style="left:49.00px;top:28.20px;font-size:6.679px;letter-spacing:-0.130px;color:#131722;">XAUUSD <i class="d"></i> FXCM</div><div class="p" style="left:104.50px;top:28.20px;font-size:6.497px;letter-spacing:-0.130px;color:#ff9800;-webkit-text-stroke:0.2px currentColor;">4,721.66</div><div class="p" style="left:133.75px;top:28.20px;font-size:6.77px;letter-spacing:-0.130px;color:#ff9800;-webkit-text-stroke:0.2px currentColor;">−138.73</div><div class="p" style="left:160.00px;top:28.20px;font-size:7.0px;letter-spacing:-0.075px;color:#ff9800;-webkit-text-stroke:0.2px currentColor;">(−2.85%)</div>
<div class="tag" style="left:8px;top:72.8px;width:36.2px;height:8.9px;background:#ff9800;"></div><div class="p" style="left:11.50px;top:72.60px;font-size:7.05px;letter-spacing:0.007px;color:#131722;">4,721.66</div>
<div class="tag" style="left:44.6px;top:72.8px;width:31.2px;height:8.9px;background:#ff9800;"></div><div class="p" style="left:46.80px;top:72.60px;font-size:6.57px;letter-spacing:-0.130px;color:#131722;">XAUUSD</div>
<div class="tag" style="left:526.9px;top:183.3px;width:30.2px;height:8.6px;background:#089981;"></div><div class="p" style="left:529.00px;top:183.40px;font-size:6.538px;letter-spacing:-0.130px;color:#fff;">BTCUSD</div>
<div class="tag" style="left:557px;top:183.3px;width:1.4px;height:8.6px;background:#089981;opacity:0.45"></div><div class="tag" style="left:558.2px;top:183.3px;width:29.6px;height:16.3px;background:#089981;"></div><div class="p" style="left:563.10px;top:183.50px;font-size:7.1px;letter-spacing:0.068px;color:#fff;">78,113</div><div class="p" style="left:563.10px;top:190.60px;font-size:7.0px;letter-spacing:-0.103px;color:#fff;">6d 9h</div>
<div class="btn" style="left:20px;top:396px"></div><div class="p" style="left:23.40px;top:396.60px;font-size:5.4px;letter-spacing:0.101px;color:#131722;">Z</div>
<div class="btn" style="left:571.5px;top:396px"></div><div class="p" style="left:574.60px;top:396.60px;font-size:5.6px;letter-spacing:0.065px;color:#131722;">A</div>
<svg style="position:absolute;left:6.4px;top:420.0px" width="16.0" height="8.2" viewBox="0 2 35.5 18" preserveAspectRatio="none"><path fill="#141414" d="M15.3 20H7.5V10H0V2h15.3v18zM29 20h-8.2l6.5-18h8.2L29 20z"/><circle cx="20.8" cy="5.6" r="3.6" fill="#141414"/></svg>
<div class="p" style="line-height:13px;height:13px;left:26.80px;top:418.40px;font-size:10.7px;letter-spacing:0.197px;color:#141414;font-weight:bold;">TradingView</div>
</body></html>
